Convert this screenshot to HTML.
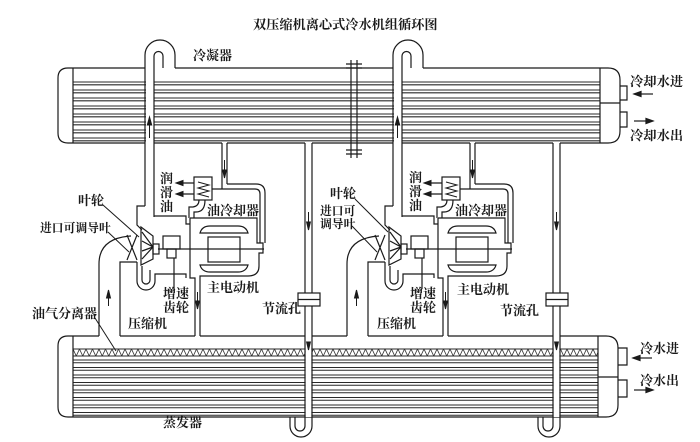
<!DOCTYPE html>
<html><head><meta charset="utf-8"><style>
html,body{margin:0;padding:0;background:#fff;}
svg{display:block;}
text{font-family:"Liberation Serif","Noto Serif CJK SC",serif;font-size:13px;fill:#1a1a1a;font-weight:bold;}
</style></head><body>
<svg width="700" height="442" viewBox="0 0 700 442" xmlns="http://www.w3.org/2000/svg">
<defs>
<pattern id="zz" x="73" y="349" width="6.5" height="7" patternUnits="userSpaceOnUse">
<path d="M0,0 L3.25,7 L6.5,0" fill="none" stroke="#333" stroke-width="0.8"/>
</pattern>
</defs>
<rect width="700" height="442" fill="#fff"/>

<!-- Condenser tubes -->
<g stroke="#2a2a2a" stroke-width="1.05" fill="none">
<path d="M73,82H600 M73,84.8H600 M73,90H600 M73,92.8H600 M73,98H600 M73,100.8H600 M73,106H600 M73,108.8H600 M73,114H600 M73,116.8H600 M73,122H600 M73,124.8H600 M73,130H600 M73,132.8H600 M73,138H600 M73,140.8H600"/>
</g>
<!-- Evaporator tubes -->
<g stroke="#2a2a2a" stroke-width="1" fill="none">
<path d="M73,360H598 M73,362.8H598 M73,367.5H598 M73,370.3H598 M73,375H598 M73,377.8H598 M73,382.5H598 M73,385.3H598 M73,390H598 M73,392.8H598 M73,397.5H598 M73,400.3H598 M73,405H598 M73,407.8H598 M73,412.5H598 M73,415.3H598"/>
</g>
<rect x="73" y="349" width="525" height="7" fill="url(#zz)"/>
<path d="M73,349H598 M73,356H598" stroke="#2a2a2a" stroke-width="1" fill="none"/>

<!-- Shells -->
<g stroke="#1a1a1a" stroke-width="1.2" fill="none">
<path d="M73,68H68Q58,68 58,78V133Q58,143 68,143H73"/>
<path d="M73,68V143 M600,68V143"/>
<path d="M73,68H145 M175,68H393 M423,68H600"/>
<path d="M600,68H608Q620,68 620,80V131Q620,143 608,143H600"/>
<path d="M600,103H620"/>
<path d="M73,143H145 M154,143H222 M227,143H305 M312,143H393 M402,143H470 M475,143H553 M560,143H600"/>
<path d="M620,86H627V100H620 M620,112H627V127H620"/>
<path d="M73,336H68Q58,336 58,346V407Q58,417 68,417H73"/>
<path d="M73,336V417 M598,336V417"/>
<path d="M73,336H99 M120,336H195 M200,336H305 M312,336H347 M368,336H443 M448,336H553 M560,336H598"/>
<path d="M73,417H598"/>
<path d="M598,336H606Q618,336 618,348V405Q618,417 606,417H598"/>
<path d="M598,377H618"/>
<path d="M618,348H627V365H618 M618,380H627V397H618"/>
<path d="M351,60V158 M357,60V158 M346,64H362 M346,68H362 M346,150H362 M346,154H362"/>
</g>

<!-- Water arrows -->
<g stroke="#1a1a1a" stroke-width="1.2" fill="#1a1a1a">
<path d="M653,94H640"/><polygon points="634,94 641,91.5 641,96.5"/>
<path d="M634,121H647"/><polygon points="653,121 646,118.5 646,123.5"/>
<path d="M652,358H639"/><polygon points="633,358 640,355.5 640,360.5"/>
<path d="M634,390H647"/><polygon points="653,390 646,387.5 646,392.5"/>
</g>

<!-- Compressor unit (left) -->
<g id="unit">
<rect x="146" y="60" width="8" height="86" fill="#fff"/>
<rect x="305.6" y="337" width="5.8" height="80" fill="#fff"/>
<g stroke="#1a1a1a" stroke-width="1.2" fill="none">
<path d="M145,206V55A15,15 0 0 1 175,55V68"/>
<path d="M154,217V56A4.5,4.5 0 0 1 163,56V68"/>
<path d="M222,143V189 M227,143V184"/>
<path d="M227,184H256Q265,184 265,193V243"/>
<path d="M212,189H255Q260,189 260,194V243"/>
<rect x="194" y="177" width="18" height="23"/>
<path d="M198,182L209,185L198,188L209,191L198,194L209,197" stroke-width="1"/>
<path d="M194,183H182 M194,194H182"/>
<path d="M199,200Q199,206 193,207H189V218"/>
<path d="M205,200Q205,212 196,212H194V218"/>
<path d="M154,216H186V224H190"/>
<path d="M190,218H257V243H263V253H259V266Q259,276 248,276H200V336"/>
<path d="M190,218V278H195V336"/>
<path d="M200,233Q202,226 210,226H238Q246,226 248,233Z"/>
<path d="M200,265Q202,272 210,272H238Q246,272 248,265Z"/>
<rect x="208" y="237" width="32" height="25"/>
<path d="M158,249H264"/>
<rect x="163" y="236" width="17" height="13"/>
<rect x="167" y="249" width="9" height="9"/>
<path d="M174,258V289"/>
<rect x="153" y="244" width="6" height="10"/>
<path d="M141,227L153,236V259L141,265Z"/>
<path d="M153,247L142,232 M153,247L142,241 M153,247L142,251 M153,247L142,259"/>
<path d="M145,206H137V225L142,230"/>
<path d="M127,235L137,260 M137,235L127,260"/>
<path d="M137,262V281A9,9 0 0 0 155,281V274H186V278"/>
<path d="M142,266V280A4,4 0 0 0 150,280V270"/>
<path d="M120,336V262H137"/>
<path d="M99,336V264Q99,238 131,236"/>
<path d="M305,143V293 M312,143V293"/>
<rect x="298" y="293" width="22" height="13"/>
<path d="M298,299.5H320"/>
<path d="M305,306V426A5,5 0 0 1 295,426V417"/>
<path d="M312,306V426A11,11 0 0 1 290,426V417"/>
</g>
<g stroke="#1a1a1a" stroke-width="1" fill="#1a1a1a">
<path d="M149.5,138V124"/><polygon points="149.5,117 147.3,125 151.7,125"/>
<path d="M224.5,160V171"/><polygon points="224.5,178 222.6,170 226.4,170"/>
<polygon points="176,183 183,180.5 183,185.5"/>
<polygon points="176,194 183,191.5 183,196.5"/>
<path d="M108.5,306V297"/><polygon points="108.5,290 106.5,298 110.5,298"/>
<path d="M197.5,292V302"/><polygon points="197.5,309 195.6,301 199.4,301"/>
<path d="M308.5,212V223"/><polygon points="308.5,230 306.6,222 310.4,222"/>
<polygon points="308.5,350 306.6,342 310.4,342"/>
</g>
</g>
<use href="#unit" transform="translate(248,0)"/>

<g stroke="#1a1a1a" stroke-width="1" fill="none">
<path d="M103,205L139,237"/>
<path d="M108,232L129,252"/>
<path d="M95,318L116,351"/>
<path d="M355,199L388,232"/>
<path d="M352,226L377,252"/>
</g>

<text x="253" y="29" style="font-size:13.2px">双压缩机离心式冷水机组循环图</text>
<text x="193" y="60">冷凝器</text>
<text x="630" y="86" style="font-size:13.3px">冷却水进</text>
<text x="630" y="140" style="font-size:13.3px">冷却水出</text>
<text x="640" y="353">冷水进</text>
<text x="640" y="385">冷水出</text>
<text x="163" y="427">蒸发器</text>

<text x="160" y="183">润</text>
<text x="160" y="197">滑</text>
<text x="160" y="211">油</text>
<text x="207" y="215">油冷却器</text>
<text x="78" y="205">叶轮</text>
<text x="40" y="232" style="font-size:11.8px">进口可调导叶</text>
<text x="163" y="298">增速</text>
<text x="163" y="312">齿轮</text>
<text x="207" y="292">主电动机</text>
<text x="128" y="328">压缩机</text>
<text x="262" y="313">节流孔</text>
<text x="32" y="318">油气分离器</text>

<text x="409" y="182">润</text>
<text x="409" y="196">滑</text>
<text x="409" y="210">油</text>
<text x="455" y="215">油冷却器</text>
<text x="330" y="198">叶轮</text>
<text x="320" y="215" style="font-size:11.8px">进口可</text>
<text x="320" y="228" style="font-size:11.8px">调导叶</text>
<text x="410" y="298">增速</text>
<text x="410" y="312">齿轮</text>
<text x="457" y="294">主电动机</text>
<text x="377" y="328">压缩机</text>
<text x="500" y="315">节流孔</text>
</svg>
</body></html>
